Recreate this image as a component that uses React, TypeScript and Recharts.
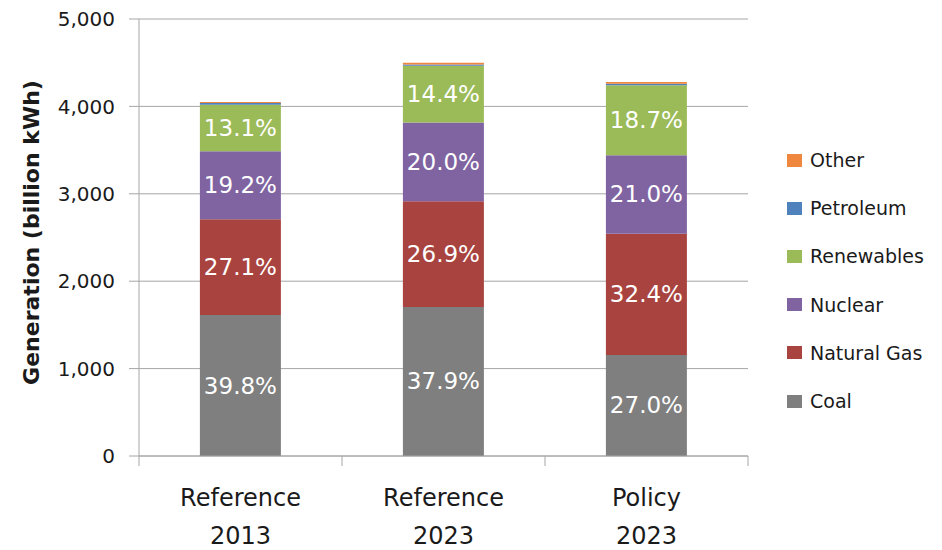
import React from "react";
import {
  BarChart,
  Bar,
  XAxis,
  YAxis,
  CartesianGrid,
  Legend,
  LabelList,
  Label,
} from "recharts";

// Electricity generation by fuel, billion kWh
const scenarios = ["Reference 2013", "Reference 2023", "Policy 2023"];
const coal = [1612, 1706, 1156];
const naturalGas = [1098, 1210, 1387];
const nuclear = [778, 900, 899];
const renewables = [531, 648, 800];
const petroleum = [20, 14, 16];
const other = [12, 22, 22];

const yTicks = [0, 1000, 2000, 3000, 4000, 5000];

const series = [
  { key: "coal", name: "Coal", color: "#7f7f7f", values: coal, labelled: true },
  { key: "gas", name: "Natural Gas", color: "#a9433f", values: naturalGas, labelled: true },
  { key: "nuclear", name: "Nuclear", color: "#8064a2", values: nuclear, labelled: true },
  { key: "renew", name: "Renewables", color: "#9bbb59", values: renewables, labelled: true },
  { key: "petro", name: "Petroleum", color: "#4f81bd", values: petroleum, labelled: false },
  { key: "other", name: "Other", color: "#f0873e", values: other, labelled: false },
];

const totals = scenarios.map((_, i) =>
  series.reduce((sum, s) => sum + s.values[i], 0)
);

const data = scenarios.map((name, i) => {
  const row: Record<string, string | number> = { name, pos: i + 0.5 };
  series.forEach((s) => {
    row[s.key] = s.values[i];
  });
  return row;
});

const FONT = "'DejaVu Sans', sans-serif";
const GRID = "#a6a6a6";
const INK = "#1a1a1a";

function ScenarioTick(props: any) {
  const { x, y, payload } = props;
  const words = String(payload.value).split(" ");
  return (
    <text x={x} y={y} textAnchor="middle" fontSize={24} fill={INK} fontFamily={FONT}>
      <tspan x={x} dy={49}>
        {words[0]}
      </tspan>
      <tspan x={x} dy={38}>
        {words[1]}
      </tspan>
    </text>
  );
}

function ShareLabel(props: any) {
  const { x, y, width, height, value, index } = props;
  const pct = ((Number(value) / totals[index]) * 100).toFixed(1);
  return (
    <text
      x={x + width / 2}
      y={y + height / 2}
      textAnchor="middle"
      dominantBaseline="central"
      fontSize={23}
      fill="#ffffff"
      fontFamily={FONT}
    >
      {pct}%
    </text>
  );
}

function FuelLegend() {
  return (
    <div style={{ fontFamily: FONT }}>
      {[...series].reverse().map((s) => (
        <div
          key={s.key}
          style={{ display: "flex", alignItems: "center", height: 48.2 }}
        >
          <span
            style={{
              display: "inline-block",
              width: 15,
              height: 13,
              background: s.color,
              marginRight: 8,
            }}
          />
          <span style={{ fontSize: 19, color: INK }}>{s.name}</span>
        </div>
      ))}
    </div>
  );
}

export default function App() {
  return (
    <div style={{ position: "absolute", left: 0, top: 0 }}>
      <BarChart
        width={942}
        height={550}
        data={data}
        margin={{ top: 19, right: 39, bottom: 0, left: 0 }}
        barCategoryGap="30%"
        style={{ fontFamily: FONT }}
      >
        <CartesianGrid vertical={false} stroke={GRID} xAxisId="scen" />
        {/* boundary ticks between scenarios, sits right on the plot edge */}
        <XAxis
          xAxisId={0}
          type="number"
          dataKey="pos"
          domain={[0, 3]}
          ticks={[0, 1, 2, 3]}
          height={1}
          tick={() => <g />}
          tickSize={10}
          stroke={GRID}
          allowDataOverflow
        />
        <XAxis
          xAxisId="scen"
          dataKey="name"
          height={93}
          axisLine={false}
          tickLine={false}
          tickSize={0}
          tickMargin={0}
          tick={<ScenarioTick />}
          interval={0}
        />
        <YAxis
          width={139}
          domain={[0, 5000]}
          ticks={yTicks}
          tickFormatter={(v: number) => v.toLocaleString("en-US")}
          tickSize={10}
          tickMargin={14}
          stroke={GRID}
          tick={{ fill: INK, fontSize: 20, fontFamily: FONT }}
        >
          <Label
            content={(p: any) => {
              const vb = p.viewBox || {};
              const cx = 31;
              const cy = (vb.y ?? 19) + (vb.height ?? 437) / 2 - 5;
              return (
                <text
                  x={cx}
                  y={cy}
                  transform={`rotate(-90 ${cx} ${cy})`}
                  textAnchor="middle"
                  dominantBaseline="central"
                  fontSize={22}
                  fontWeight="bold"
                  fill={INK}
                  fontFamily={FONT}
                >
                  Generation (billion kWh)
                </text>
              );
            }}
          />
        </YAxis>
        {series.map((s) => (
          <Bar
            key={s.key}
            xAxisId="scen"
            dataKey={s.key}
            name={s.name}
            stackId="gen"
            fill={s.color}
            isAnimationActive={false}
          >
            {s.labelled && <LabelList dataKey={s.key} content={<ShareLabel />} />}
          </Bar>
        ))}
        <Legend
          layout="vertical"
          align="right"
          verticalAlign="middle"
          content={() => <FuelLegend />}
          wrapperStyle={{ left: 787, top: 136, width: 155 }}
        />
      </BarChart>
    </div>
  );
}
